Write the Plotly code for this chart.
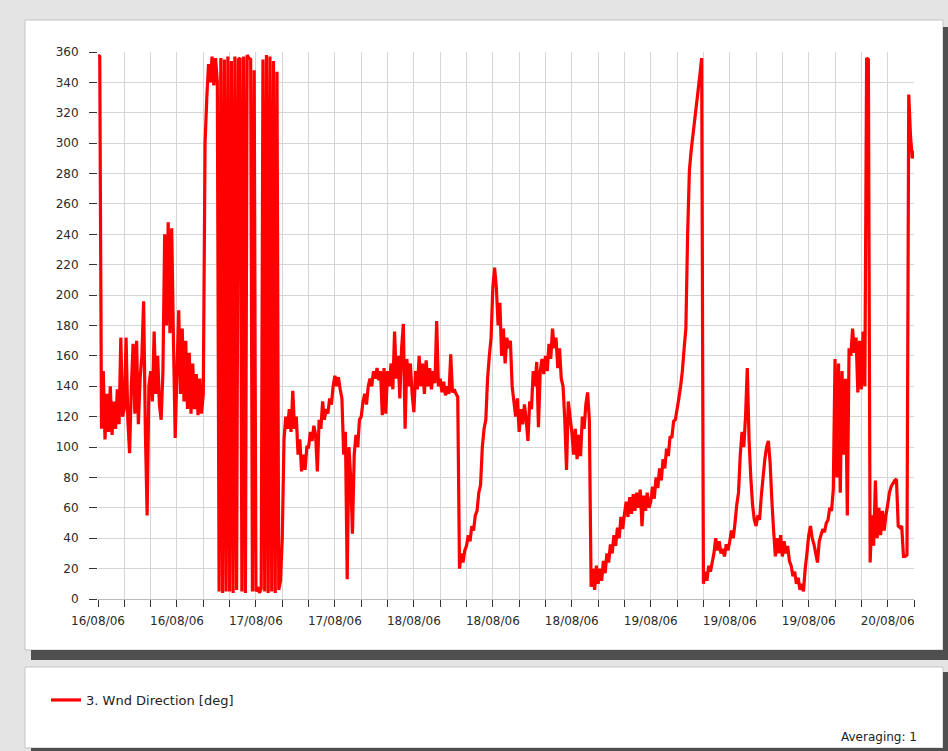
import pandas as pd
import plotly.graph_objects as go

# ---- data ----
start_time = "2006-08-16 12:00"
sample_step_hours = 0.2          # one reading every 12 minutes

wind_direction_deg = [
    358, 357, 112, 150, 105, 135, 110, 140, 108, 130, 112, 138, 115, 172, 120,
    125, 172, 118, 96, 140, 168, 122, 170, 115, 145, 160, 196, 110, 55, 140,
    150, 130, 176, 135, 160, 128, 118, 150, 240, 180, 248, 175, 244, 170, 106,
    150, 190, 135, 178, 130, 170, 125, 162, 122, 155, 125, 148, 121, 145, 122,
    135, 300, 330, 352, 340, 357, 338, 356, 340, 5, 356, 4, 355, 5, 357,
    5, 354, 4, 357, 6, 355, 356, 5, 357, 4, 358, 356, 355, 5, 348,
    5, 8, 4, 7, 355, 5, 358, 4, 357, 5, 354, 4, 347, 6, 12,
    40, 105, 120, 112, 125, 110, 137, 112, 120, 95, 105, 84, 95, 85, 100,
    100, 110, 104, 114, 108, 84, 118, 112, 130, 118, 125, 122, 132, 128, 140,
    147, 140, 146, 138, 132, 95, 110, 13, 100, 80, 43, 95, 108, 100, 118,
    120, 130, 135, 128, 140, 145, 140, 150, 145, 152, 144, 150, 121, 152, 122,
    150, 140, 155, 138, 176, 145, 160, 132, 165, 181, 112, 158, 140, 155, 135,
    123, 150, 138, 160, 140, 155, 135, 157, 140, 152, 138, 150, 142, 183, 140,
    145, 136, 143, 134, 140, 135, 161, 136, 138, 135, 133, 20, 30, 24, 32,
    35, 42, 38, 48, 45, 55, 58, 70, 75, 100, 112, 118, 145, 160, 172,
    205, 218, 205, 180, 195, 160, 178, 155, 172, 165, 170, 140, 130, 120, 132,
    110, 125, 115, 128, 118, 104, 130, 125, 150, 140, 156, 113, 150, 158, 148,
    160, 150, 168, 158, 178, 165, 172, 152, 165, 145, 140, 118, 85, 130, 120,
    110, 95, 112, 92, 108, 94, 120, 112, 128, 136, 118, 8, 20, 6, 22,
    10, 20, 12, 25, 17, 30, 24, 36, 30, 42, 35, 47, 40, 54, 46,
    56, 64, 54, 67, 56, 69, 58, 70, 60, 72, 48, 68, 58, 70, 60,
    64, 74, 66, 80, 73, 86, 78, 92, 86, 99, 94, 107, 106, 117, 118,
    125, 132, 140, 150, 165, 178, 240, 282, 295, 305, 315, 325, 335, 345, 356,
    10, 18, 12, 22, 18, 24, 30, 40, 32, 38, 30, 33, 28, 36, 32,
    38, 45, 40, 50, 62, 70, 95, 110, 100, 120, 152, 105, 80, 62, 52,
    48, 55, 52, 68, 80, 92, 100, 104, 90, 65, 45, 28, 40, 30, 42,
    28, 38, 30, 35, 25, 22, 15, 18, 10, 14, 6, 10, 5, 20, 30,
    42, 48, 40, 36, 30, 24, 38, 42, 46, 44, 50, 52, 60, 58, 72,
    158, 80, 155, 70, 150, 95, 145, 55, 165, 160, 178, 162, 172, 136, 170,
    138, 176, 140, 356, 355, 24, 55, 35, 78, 40, 60, 42, 58, 45, 55,
    62, 70, 74, 76, 78, 79, 48, 47, 48, 28, 28, 29, 332, 305, 290,
    295,
]

tick_step_hours = 3
tick_count = 32
label_every = 3
y_ticks = list(range(0, 361, 20))
series_name = "3. Wnd Direction [deg]"
averaging_text = "Averaging: 1"

# ---- build ----
t0 = pd.Timestamp(start_time)
times = [t0 + pd.Timedelta(hours=i * sample_step_hours) for i in range(len(wind_direction_deg))]
tick_vals = [t0 + pd.Timedelta(hours=k * tick_step_hours) for k in range(tick_count)]
tick_text = [tv.strftime("%d/%m/%y") if k % label_every == 0 else "" for k, tv in enumerate(tick_vals)]

W, H = 948, 751
L, R, T, B = 98, 914, 52, 599
PAGE_BG = "#e4e4e4"
SHADOW = "#4f4f4f"


def px(x):
    return (x - L) / (R - L)


def py(y):
    return (B - y) / (B - T)


fig = go.Figure()
fig.add_trace(go.Scatter(
    x=times, y=wind_direction_deg, mode="lines", name=series_name,
    line=dict(color="#ff0000", width=3.2, simplify=False), showlegend=True,
))

font_family = "DejaVu Sans, Liberation Sans, Arial"
shapes = [
    # main white panel
    dict(type="rect", xref="paper", yref="paper", x0=px(25), x1=px(943), y0=py(650), y1=py(20),
         fillcolor="white", line=dict(color="#c4c4c4", width=1), layer="below"),
    # shadows of main panel
    dict(type="rect", xref="paper", yref="paper", x0=px(31), x1=px(948), y0=py(660), y1=py(650),
         fillcolor=SHADOW, line=dict(width=0), layer="below"),
    dict(type="rect", xref="paper", yref="paper", x0=px(943), x1=px(948), y0=py(660), y1=py(27),
         fillcolor=SHADOW, line=dict(width=0), layer="below"),
    # legend panel
    dict(type="rect", xref="paper", yref="paper", x0=px(25), x1=px(943), y0=py(748), y1=py(667),
         fillcolor="white", line=dict(color="#c4c4c4", width=1), layer="below"),
    dict(type="rect", xref="paper", yref="paper", x0=px(943), x1=px(948), y0=py(751), y1=py(672),
         fillcolor=SHADOW, line=dict(width=0), layer="below"),
    dict(type="rect", xref="paper", yref="paper", x0=px(31), x1=px(948), y0=py(751), y1=py(748),
         fillcolor=SHADOW, line=dict(width=0), layer="below"),
]

fig.update_layout(
    width=W, height=H,
    margin=dict(l=L, r=W - R, t=T, b=H - B, pad=0),
    paper_bgcolor=PAGE_BG,
    plot_bgcolor="white",
    font=dict(family=font_family, color="#2a2a2a", size=12),
    shapes=shapes,
    showlegend=True,
    legend=dict(x=px(46), y=py(685), xanchor="left", yanchor="top",
                bgcolor="rgba(0,0,0,0)", font=dict(size=13, color="#222222"),
                itemwidth=30, tracegroupgap=0),
    annotations=[dict(text=averaging_text, xref="paper", yref="paper",
                      x=px(919), y=py(737), xanchor="right", yanchor="middle",
                      showarrow=False, font=dict(size=12, color="#222222"))],
)

fig.update_xaxes(
    type="date",
    range=[tick_vals[0], tick_vals[-1]],
    tickmode="array", tickvals=tick_vals, ticktext=tick_text,
    ticks="outside", ticklen=7, tickcolor="#333333", tickwidth=1,
    showgrid=True, gridcolor="#d6d6d6", gridwidth=1,
    showline=True, linecolor="#bbbbbb", linewidth=1,
    zeroline=False, tickfont=dict(size=12, color="#2a2a2a"),
    ticklabelstandoff=4,
)
fig.update_yaxes(
    range=[0, 360],
    tickmode="array", tickvals=y_ticks,
    ticks="outside", ticklen=8, tickcolor="#333333", tickwidth=1,
    showgrid=True, gridcolor="#d6d6d6", gridwidth=1,
    showline=False, zeroline=False,
    tickfont=dict(size=12, color="#2a2a2a"),
    ticklabelstandoff=8,
)

fig.write_html(
    "out.html",
    config={"displayModeBar": False},
    post_script="document.body.style.margin='0';document.body.style.background='%s';" % PAGE_BG,
)
